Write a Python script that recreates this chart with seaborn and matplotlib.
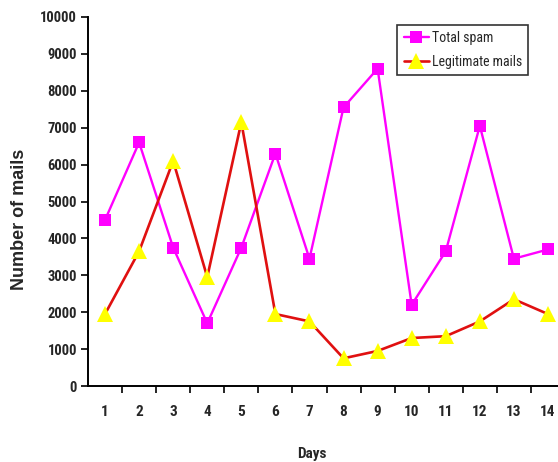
import matplotlib
matplotlib.use("Agg")
import matplotlib.pyplot as plt
import seaborn as sns
from matplotlib.ticker import MultipleLocator, FixedLocator

# --- data ---
days = list(range(1, 15))
total_spam = [4500, 6600, 3750, 1700, 3750, 6300, 3450, 7550, 8600, 2200, 3650, 7050, 3450, 3700]
legit_mails = [1950, 3650, 6100, 2950, 7150, 1950, 1750, 750, 950, 1300, 1350, 1750, 2350, 1950]

sns.set_theme(style="white")
plt.rcParams["font.family"] = ["Roboto Condensed", "Liberation Sans Narrow", "Liberation Sans", "DejaVu Sans"]

fig = plt.figure(figsize=(5.58, 4.62), dpi=100)
ax = fig.add_axes([88 / 558, 76 / 462, 477 / 558, 369 / 462])

sns.lineplot(x=days, y=total_spam, ax=ax, color="#FF00FF", lw=1.7,
             marker="s", markersize=9, markeredgewidth=0, markerfacecolor="#FF00FF",
             label="Total spam")
sns.lineplot(x=days, y=legit_mails, ax=ax, color="#E01010", lw=1.9,
             marker="^", markersize=11, markeredgewidth=0, markerfacecolor="#FFFF00",
             label="Legitimate mails")

ax.set_xlim(0.5, 14.5)
ax.set_ylim(0, 10000)
ax.yaxis.set_major_locator(MultipleLocator(1000))
ax.set_xticks(days)
ax.xaxis.set_minor_locator(FixedLocator([d + 0.5 for d in days]))
ax.tick_params(axis="x", which="major", length=0, pad=14, labelsize=11)
ax.tick_params(axis="x", which="minor", length=5, width=1.2, color="black", direction="out", bottom=True)
ax.tick_params(axis="y", length=5, width=1.2, color="black", direction="out", left=True, labelsize=10.5, pad=3)
for t in ax.get_xticklabels() + ax.get_yticklabels():
    t.set_fontweight("bold")

for s in ["top", "right"]:
    ax.spines[s].set_visible(False)
for s in ["left", "bottom"]:
    ax.spines[s].set_color("black")
    ax.spines[s].set_linewidth(1.4)

fig.text(20 / 558, 1 - 219 / 462, "Number of mails", rotation=90, ha="center", va="center",
         fontsize=13, fontweight="bold", family=["Liberation Sans", "DejaVu Sans"])
fig.text(312 / 558, 1 - 454 / 462, "Days", ha="center", va="center", fontsize=11, fontweight="bold")

leg = ax.legend(loc="upper right", bbox_to_anchor=((528 - 88) / 477, (386 - 25) / 369),
                frameon=True, fancybox=False, edgecolor="black", fontsize=10,
                handlelength=1.8, borderpad=0.45, labelspacing=0.7, handletextpad=0.2,
                borderaxespad=0)
leg.get_frame().set_linewidth(1.2)

fig.savefig("out.png", dpi=100)
